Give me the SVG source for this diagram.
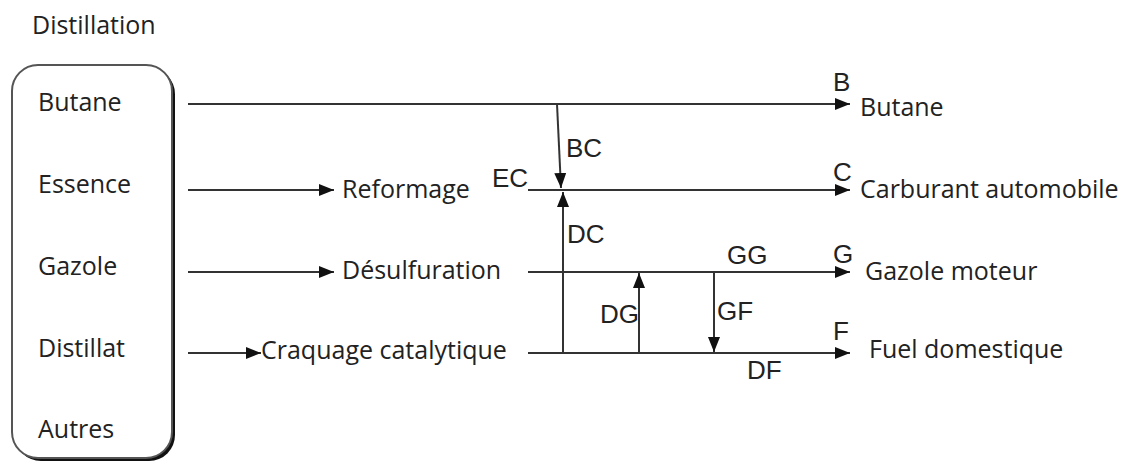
<svg xmlns="http://www.w3.org/2000/svg" width="1134" height="464" viewBox="0 0 1134 464">
<style>
.t{font-family:"Open Sans","Liberation Sans",sans-serif;font-size:25px;fill:#222}
.l{font-family:"Liberation Sans",Arial,sans-serif;font-size:26px;fill:#222}
.c{stroke:#333;stroke-width:2;fill:none}
</style>
<defs>
<marker id="ah" markerWidth="15" markerHeight="12" refX="15" refY="6" orient="auto" markerUnits="userSpaceOnUse">
<path d="M0,0 L15,6 L0,12 z" fill="#111"/>
</marker>
</defs>
<rect width="1134" height="464" fill="#fff"/>
<text class="t" x="32" y="34">Distillation</text>
<g id="distillation">
<rect x="15" y="68" width="160" height="393" rx="26" fill="#111"/>
<rect x="12" y="65" width="160" height="393" rx="26" fill="#fff" stroke="#555" stroke-width="2"/>
<text class="t" x="38" y="111">Butane</text>
<text class="t" x="38" y="193">Essence</text>
<text class="t" x="38" y="275">Gazole</text>
<text class="t" x="38" y="357">Distillat</text>
<text class="t" x="38" y="438">Autres</text>
</g>
<g id="reformage"><text class="t" x="342" y="198">Reformage</text></g>
<g id="desulfuration"><text class="t" x="342" y="279">Désulfuration</text></g>
<g id="craquage"><text class="t" x="261" y="359">Craquage catalytique</text></g>
<g id="butane-out"><text class="t" x="860" y="116">Butane</text></g>
<g id="carburant"><text class="t" x="860" y="198">Carburant automobile</text></g>
<g id="gazole-moteur"><text class="t" x="865" y="280">Gazole moteur</text></g>
<g id="fuel"><text class="t" x="869" y="358">Fuel domestique</text></g>
<g id="connectors">
<path class="c" d="M188,104 H850" marker-end="url(#ah)"/>
<path class="c" d="M188,190 H334" marker-end="url(#ah)"/>
<path class="c" d="M188,272 H334" marker-end="url(#ah)"/>
<path class="c" d="M188,353 H261" marker-end="url(#ah)"/>
<path class="c" d="M528,190 H850" marker-end="url(#ah)"/>
<path class="c" d="M528,272 H850" marker-end="url(#ah)"/>
<path class="c" d="M528,353 H850" marker-end="url(#ah)"/>
<path class="c" d="M557,104 L561,188" marker-end="url(#ah)"/>
<path class="c" d="M563,353 V192" marker-end="url(#ah)"/>
<path class="c" d="M639,353 V273" marker-end="url(#ah)"/>
<path class="c" d="M714,272 V352" marker-end="url(#ah)"/>
<text class="l" x="833" y="91">B</text>
<text class="l" x="833" y="181">C</text>
<text class="l" x="492" y="187">EC</text>
<text class="l" x="566" y="157">BC</text>
<text class="l" x="567" y="243">DC</text>
<text class="l" x="727" y="264">GG</text>
<text class="l" x="833" y="263">G</text>
<text class="l" x="600" y="323">DG</text>
<text class="l" x="717" y="320">GF</text>
<text class="l" x="833" y="340">F</text>
<text class="l" x="747" y="379">DF</text>
</g>
</svg>
